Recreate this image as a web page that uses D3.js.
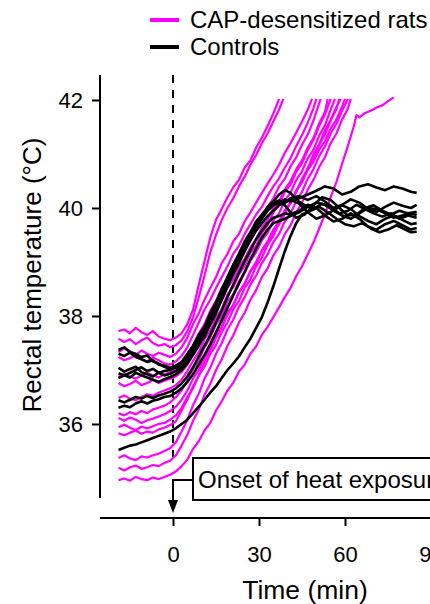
<!DOCTYPE html>
<html>
<head>
<meta charset="utf-8">
<script src="https://cdn.jsdelivr.net/npm/d3@7"></script>
<style>
  html, body { margin: 0; padding: 0; background: #fff; }
  svg { display: block; }
  text { font-family: Arial, "Liberation Sans", sans-serif; fill: #000; }
</style>
</head>
<body>
<div id="chart"></div>
<script>
// CAP-desensitized rats, [time (min), rectal temperature (°C)]
const cap1 = [[-19,37.72],[-17,37.75],[-15,37.68],[-13,37.78],[-11,37.7],[-9,37.65],[-7,37.72],[-5,37.62],[-3,37.58],[-1,37.55],[1,37.6],[3,37.68],[5,37.85],[7,38.12],[9,38.58],[11,39.02],[13,39.45],[15,39.78],[17,39.98],[19,40.2],[21,40.38],[23,40.52],[25,40.75],[27,40.88],[29,41.12],[31,41.3],[33,41.52],[35,41.75],[37,42.02]]
const cap2 = [[-19,37.58],[-17,37.52],[-15,37.57],[-13,37.48],[-11,37.55],[-9,37.6],[-7,37.5],[-5,37.45],[-3,37.48],[-1,37.42],[1,37.46],[3,37.55],[5,37.72],[7,37.98],[9,38.35],[11,38.75],[13,39.18],[15,39.5],[17,39.78],[19,40.0],[21,40.18],[23,40.4],[25,40.58],[27,40.8],[29,40.98],[31,41.2],[33,41.38],[35,41.6],[37,41.82],[38.5,42.02]]
const cap3 = [[-19,37.33],[-17,37.4],[-15,37.35],[-13,37.28],[-11,37.36],[-9,37.3],[-7,37.26],[-5,37.32],[-3,37.28],[-1,37.24],[1,37.3],[3,37.42],[5,37.6],[7,37.85],[9,38.05],[11,38.3],[13,38.52],[15,38.72],[17,38.98],[19,39.15],[21,39.38],[23,39.52],[25,39.75],[27,39.92],[29,40.1],[31,40.28],[33,40.45],[35,40.62],[37,40.8],[39,41.02],[41,41.2],[43,41.4],[45,41.6],[47,41.82],[48.5,42.02]]
const cap4 = [[-19,37.24],[-17,37.18],[-15,37.22],[-13,37.27],[-11,37.2],[-9,37.16],[-7,37.23],[-5,37.18],[-3,37.12],[-1,37.1],[1,37.16],[3,37.26],[5,37.42],[7,37.65],[9,37.88],[11,38.12],[13,38.3],[15,38.52],[17,38.72],[19,38.92],[21,39.15],[23,39.3],[25,39.52],[27,39.7],[29,39.88],[31,40.02],[33,40.22],[35,40.4],[37,40.55],[39,40.75],[41,40.92],[43,41.15],[45,41.35],[47,41.58],[49,41.85],[50,42.02]]
const cap5 = [[-19,36.87],[-17,36.93],[-15,36.88],[-13,36.84],[-11,36.9],[-9,36.95],[-7,36.9],[-5,36.86],[-3,36.92],[-1,36.96],[1,37.0],[3,37.1],[5,37.25],[7,37.45],[9,37.68],[11,37.85],[13,38.1],[15,38.28],[17,38.52],[19,38.66],[21,38.92],[23,39.06],[25,39.32],[27,39.44],[29,39.67],[31,39.84],[33,40.02],[35,40.18],[37,40.4],[39,40.54],[41,40.77],[43,40.94],[45,41.17],[47,41.36],[49,41.62],[51.5,42.02]]
const cap6 = [[-19,36.76],[-17,36.7],[-15,36.74],[-13,36.8],[-11,36.72],[-9,36.76],[-7,36.82],[-5,36.76],[-3,36.8],[-1,36.84],[1,36.88],[3,36.96],[5,37.1],[7,37.3],[9,37.46],[11,37.7],[13,37.88],[15,38.12],[17,38.28],[19,38.52],[21,38.68],[23,38.9],[25,39.06],[27,39.27],[29,39.43],[31,39.64],[33,39.78],[35,40.0],[37,40.13],[39,40.34],[41,40.5],[43,40.72],[45,40.88],[47,41.12],[49,41.3],[51,41.57],[53,41.78],[54,42.02]]
const cap7 = [[-19,36.48],[-17,36.53],[-15,36.47],[-13,36.44],[-11,36.5],[-9,36.55],[-7,36.52],[-5,36.58],[-3,36.62],[-1,36.66],[1,36.72],[3,36.82],[5,36.98],[7,37.17],[9,37.33],[11,37.57],[13,37.73],[15,37.97],[17,38.13],[19,38.4],[21,38.53],[23,38.77],[25,38.93],[27,39.17],[29,39.3],[31,39.54],[33,39.68],[35,39.92],[37,40.06],[39,40.3],[41,40.43],[43,40.67],[45,40.83],[47,41.07],[49,41.26],[51,41.52],[53,41.73],[55,42.02]]
const cap8 = [[-19,36.2],[-17,36.16],[-15,36.22],[-13,36.18],[-11,36.24],[-9,36.2],[-7,36.27],[-5,36.3],[-3,36.34],[-1,36.4],[1,36.5],[3,36.62],[5,36.8],[7,37.02],[9,37.18],[11,37.42],[13,37.6],[15,37.84],[17,38.0],[19,38.27],[21,38.4],[23,38.64],[25,38.8],[27,39.02],[29,39.18],[31,39.4],[33,39.54],[35,39.77],[37,39.9],[39,40.14],[41,40.28],[43,40.52],[45,40.68],[47,40.92],[49,41.08],[51,41.34],[53,41.53],[55,41.82],[56.5,42.02]]
const cap9 = [[-19,36.11],[-17,36.06],[-15,36.12],[-13,36.08],[-11,36.02],[-9,36.07],[-7,36.1],[-5,36.14],[-3,36.18],[-1,36.24],[1,36.32],[3,36.45],[5,36.62],[7,36.84],[9,37.0],[11,37.24],[13,37.4],[15,37.64],[17,37.8],[19,38.07],[21,38.2],[23,38.44],[25,38.6],[27,38.82],[29,38.98],[31,39.2],[33,39.34],[35,39.57],[37,39.7],[39,39.94],[41,40.08],[43,40.32],[45,40.48],[47,40.74],[49,40.9],[51,41.17],[53,41.36],[55,41.62],[57,41.83],[58,42.02]]
const cap10 = [[-19,35.94],[-17,35.99],[-15,35.93],[-13,35.89],[-11,35.95],[-9,35.92],[-7,35.96],[-5,36.0],[-3,36.02],[-1,36.08],[1,36.16],[3,36.3],[5,36.5],[7,36.66],[9,36.9],[11,37.06],[13,37.3],[15,37.46],[17,37.7],[19,37.88],[21,38.12],[23,38.28],[25,38.52],[27,38.68],[29,38.92],[31,39.08],[33,39.32],[35,39.48],[37,39.72],[39,39.88],[41,40.12],[43,40.3],[45,40.54],[47,40.73],[49,41.0],[51,41.18],[53,41.44],[55,41.63],[57,41.87],[58.5,42.02]]
const cap11 = [[-19,35.83],[-17,35.79],[-15,35.84],[-13,35.88],[-11,35.82],[-9,35.86],[-7,35.84],[-5,35.9],[-3,35.93],[-1,35.98],[1,36.05],[3,36.25],[5,36.45],[7,36.7],[9,36.9],[11,37.15],[13,37.35],[15,37.6],[17,37.78],[19,38.02],[21,38.2],[23,38.43],[25,38.6],[27,38.83],[29,39.0],[31,39.22],[33,39.38],[35,39.6],[37,39.75],[39,39.96],[41,40.1],[43,40.32],[45,40.48],[47,40.7],[49,40.86],[51,41.08],[53,41.24],[55,41.47],[57,41.64],[59,41.88],[60,42.02]]
const cap12 = [[-19,35.37],[-17,35.42],[-15,35.36],[-13,35.33],[-11,35.4],[-9,35.38],[-7,35.42],[-5,35.45],[-3,35.5],[-1,35.55],[1,35.66],[3,35.86],[5,36.08],[7,36.35],[9,36.56],[11,36.84],[13,37.04],[15,37.3],[17,37.5],[19,37.75],[21,37.93],[23,38.17],[25,38.35],[27,38.58],[29,38.75],[31,38.98],[33,39.14],[35,39.37],[37,39.52],[39,39.75],[41,39.9],[43,40.13],[45,40.3],[47,40.54],[49,40.72],[51,40.96],[53,41.14],[55,41.38],[57,41.56],[59,41.8],[61,42.02]]
const cap13 = [[-19,35.19],[-17,35.14],[-15,35.2],[-13,35.23],[-11,35.17],[-9,35.2],[-7,35.24],[-5,35.22],[-3,35.28],[-1,35.32],[1,35.42],[3,35.6],[5,35.8],[7,36.06],[9,36.27],[11,36.54],[13,36.74],[15,37.0],[17,37.2],[19,37.45],[21,37.64],[23,37.88],[25,38.06],[27,38.3],[29,38.48],[31,38.72],[33,38.88],[35,39.12],[37,39.28],[39,39.52],[41,39.68],[43,39.92],[45,40.1],[47,40.34],[49,40.52],[51,40.76],[53,40.94],[55,41.2],[57,41.38],[59,41.64],[61,41.84],[62,42.02]]
const cap14 = [[-19,34.96],[-17,34.99],[-15,34.95],[-13,35.02],[-11,34.98],[-9,34.96],[-7,35.01],[-5,34.98],[-3,35.02],[-1,35.06],[1,35.12],[3,35.22],[5,35.34],[7,35.54],[9,35.68],[11,35.88],[13,36.02],[15,36.25],[17,36.42],[19,36.62],[21,36.76],[23,36.97],[25,37.1],[27,37.3],[29,37.44],[31,37.65],[33,37.8],[35,37.98],[37,38.16],[39,38.35],[41,38.52],[43,38.74],[45,38.92],[47,39.14],[49,39.36],[51,39.62],[53,39.88],[55,40.2],[57,40.48],[59,40.82],[61,41.15],[63,41.5],[64,41.72],[65,41.68],[67,41.76],[69,41.8],[71,41.86],[73,41.9],[75,41.98],[77,42.05]]

// Controls
const ctl1 = [[-19,37.37],[-17,37.42],[-15,37.33],[-13,37.3],[-11,37.24],[-9,37.27],[-7,37.16],[-5,37.12],[-3,37.06],[-1,37.02],[1,37.04],[3,37.1],[5,37.2],[7,37.35],[9,37.5],[11,37.62],[13,37.85],[15,38.05],[17,38.32],[19,38.55],[21,38.8],[23,39.0],[25,39.3],[27,39.5],[29,39.72],[31,39.85],[33,40.02],[35,40.12],[37,40.25],[39,40.33],[41,40.28],[43,40.15],[46,40.05],[49,39.98],[52,40.08],[55,40.02],[58,39.9],[61,39.95],[64,40.06],[67,39.98],[70,39.9],[73,39.84],[76,39.9],[79,39.8],[82,39.86],[85,39.82]]
const ctl2 = [[-19,37.3],[-17,37.26],[-15,37.32],[-13,37.24],[-11,37.2],[-9,37.15],[-7,37.18],[-5,37.1],[-3,37.08],[-1,37.04],[1,37.08],[3,37.15],[5,37.3],[7,37.45],[9,37.65],[11,37.8],[13,38.05],[15,38.25],[17,38.5],[19,38.72],[21,38.95],[23,39.15],[25,39.38],[27,39.55],[29,39.75],[31,39.88],[33,40.0],[35,40.1],[37,40.14],[39,40.1],[41,40.18],[44,40.22],[47,40.15],[50,40.22],[53,40.12],[56,40.0],[59,40.06],[62,40.16],[65,40.1],[68,39.98],[71,39.93],[74,40.02],[77,40.1],[80,40.04],[83,40.0],[85,40.06]]
const ctl3 = [[-19,37.04],[-17,36.97],[-15,37.02],[-13,37.06],[-11,36.96],[-9,36.92],[-7,36.88],[-5,36.95],[-3,36.9],[-1,36.93],[1,36.98],[3,37.05],[5,37.18],[7,37.35],[9,37.55],[11,37.75],[13,37.95],[15,38.2],[17,38.42],[19,38.65],[21,38.9],[23,39.1],[25,39.32],[27,39.5],[29,39.68],[31,39.85],[33,39.98],[35,40.08],[37,40.12],[39,40.05],[41,39.92],[43,39.82],[46,39.88],[49,40.05],[52,40.2],[55,40.15],[58,40.0],[61,39.86],[64,39.88],[67,40.0],[70,40.05],[73,39.95],[76,39.88],[79,39.95],[82,39.9],[85,39.93]]
const ctl4 = [[-19,36.94],[-17,36.9],[-15,36.95],[-13,37.0],[-11,37.05],[-9,36.98],[-7,37.02],[-5,36.95],[-3,36.98],[-1,37.0],[1,37.05],[3,37.12],[5,37.25],[7,37.4],[9,37.6],[11,37.78],[13,38.0],[15,38.22],[17,38.45],[19,38.68],[21,38.9],[23,39.1],[25,39.3],[27,39.5],[29,39.65],[31,39.8],[33,39.95],[35,40.05],[37,40.1],[39,40.16],[41,40.12],[44,40.18],[47,40.25],[50,40.32],[53,40.4],[56,40.36],[59,40.25],[62,40.3],[65,40.4],[68,40.44],[71,40.38],[74,40.33],[77,40.4],[80,40.36],[83,40.3],[85,40.28]]
const ctl5 = [[-19,36.85],[-17,36.9],[-15,36.86],[-13,36.95],[-11,36.9],[-9,36.86],[-7,36.82],[-5,36.78],[-3,36.83],[-1,36.87],[1,36.92],[3,37.0],[5,37.12],[7,37.28],[9,37.45],[11,37.65],[13,37.85],[15,38.08],[17,38.3],[19,38.55],[21,38.78],[23,38.98],[25,39.2],[27,39.4],[29,39.58],[31,39.72],[33,39.85],[35,39.95],[37,40.05],[39,40.1],[41,40.15],[44,40.08],[47,39.92],[50,39.8],[53,39.86],[56,39.96],[59,40.05],[62,39.98],[65,39.85],[68,39.76],[71,39.7],[74,39.8],[77,39.86],[80,39.78],[83,39.7],[85,39.72]]
const ctl6 = [[-19,36.44],[-17,36.4],[-15,36.45],[-13,36.5],[-11,36.47],[-9,36.52],[-7,36.48],[-5,36.53],[-3,36.56],[-1,36.6],[1,36.66],[3,36.75],[5,36.88],[7,37.05],[9,37.25],[11,37.45],[13,37.65],[15,37.88],[17,38.1],[19,38.35],[21,38.58],[23,38.8],[25,39.02],[27,39.22],[29,39.42],[31,39.58],[33,39.72],[35,39.82],[37,39.85],[39,39.9],[41,39.88],[44,39.95],[47,40.06],[50,40.0],[53,39.86],[56,39.75],[59,39.8],[62,39.9],[65,39.8],[68,39.66],[71,39.6],[74,39.7],[77,39.76],[80,39.68],[83,39.6],[85,39.63]]
const ctl7 = [[-19,36.3],[-17,36.34],[-15,36.31],[-13,36.38],[-11,36.42],[-9,36.38],[-7,36.43],[-5,36.46],[-3,36.5],[-1,36.52],[1,36.58],[3,36.66],[5,36.78],[7,36.92],[9,37.1],[11,37.28],[13,37.48],[15,37.7],[17,37.92],[19,38.15],[21,38.38],[23,38.6],[25,38.82],[27,39.05],[29,39.25],[31,39.45],[33,39.6],[35,39.72],[37,39.76],[39,39.8],[41,39.85],[44,39.92],[47,40.02],[50,40.1],[53,40.06],[56,39.95],[59,39.86],[62,39.8],[65,39.9],[68,40.0],[71,39.98],[74,39.9],[77,39.82],[80,39.86],[83,39.9],[85,39.87]]
const ctl8 = [[-19,35.52],[-17,35.56],[-15,35.6],[-13,35.62],[-11,35.66],[-9,35.7],[-7,35.74],[-5,35.78],[-3,35.82],[-1,35.86],[1,35.92],[3,36.0],[5,36.08],[7,36.2],[9,36.32],[11,36.45],[13,36.58],[15,36.7],[17,36.85],[19,37.0],[21,37.12],[23,37.25],[25,37.42],[27,37.58],[29,37.78],[31,37.98],[33,38.25],[35,38.55],[37,38.88],[39,39.2],[41,39.48],[43,39.72],[45,39.88],[48,39.95],[51,40.02],[54,39.92],[57,39.8],[60,39.7],[63,39.66],[66,39.72],[69,39.62],[72,39.55],[75,39.6],[78,39.68],[81,39.6],[83,39.55],[85,39.56]]

const capTraces = [cap1, cap2, cap3, cap4, cap5, cap6, cap7, cap8, cap9, cap10, cap11, cap12, cap13, cap14]
const ctlTraces = [ctl1, ctl2, ctl3, ctl4, ctl5, ctl6, ctl7, ctl8]

const xTicks = [0, 30, 60, 90]
const yTicks = [36, 38, 40, 42]
const legendLabels = ['CAP-desensitized rats', 'Controls']
const annotationText = 'Onset of heat exposure'

const W = 430, H = 604
const magenta = '#ff00ff'

const svg = d3.select('#chart').append('svg')
    .attr('width', W)
    .attr('height', H)

const x = d3.scaleLinear().domain([0, 90]).range([173, 431])
const y = d3.scaleLinear().domain([36, 42]).range([424, 100])

const line = d3.line()
    .x(function (d) { return x(d[0]) })
    .y(function (d) { return y(d[1]) })

// dashed onset line
svg.append('line')
    .attr('x1', x(0)).attr('x2', x(0))
    .attr('y1', 75).attr('y2', 458)
    .attr('stroke', '#000')
    .attr('stroke-width', 2)
    .attr('stroke-dasharray', '8,7')

svg.append('g').selectAll('path')
    .data(capTraces)
    .enter().append('path')
    .attr('d', line)
    .attr('fill', 'none')
    .attr('stroke', magenta)
    .attr('stroke-width', 2.2)
    .attr('stroke-linejoin', 'round')

svg.append('g').selectAll('path')
    .data(ctlTraces)
    .enter().append('path')
    .attr('d', line)
    .attr('fill', 'none')
    .attr('stroke', '#000')
    .attr('stroke-width', 2.6)
    .attr('stroke-linejoin', 'round')

// y axis
const yAxis = svg.append('g')
    .attr('transform', 'translate(100,0)')
    .call(d3.axisLeft(y).tickValues(yTicks).tickSize(8).tickPadding(9).tickFormat(d3.format('d')))
yAxis.select('.domain').remove()
yAxis.append('line')
    .attr('x1', 0).attr('x2', 0)
    .attr('y1', 75).attr('y2', 498)
    .attr('stroke', '#000').attr('stroke-width', 2)
yAxis.selectAll('.tick line').attr('stroke-width', 2)
yAxis.selectAll('.tick text')
    .style('font-size', '22px')
    .style('font-family', 'Arial, "Liberation Sans", sans-serif')
    .attr('fill', '#000')

// x axis
const xAxis = svg.append('g')
    .attr('transform', 'translate(0,518)')
    .call(d3.axisBottom(x).tickValues(xTicks).tickSize(8).tickPadding(20))
xAxis.select('.domain').remove()
xAxis.append('line')
    .attr('x1', 100).attr('x2', W)
    .attr('y1', 0).attr('y2', 0)
    .attr('stroke', '#000').attr('stroke-width', 2)
xAxis.selectAll('.tick line').attr('stroke-width', 2)
xAxis.selectAll('.tick text')
    .style('font-size', '22px')
    .style('font-family', 'Arial, "Liberation Sans", sans-serif')
    .attr('fill', '#000')

svg.append('text')
    .attr('x', 305).attr('y', 599)
    .attr('text-anchor', 'middle')
    .style('font-size', '26.5px')
    .text('Time (min)')

svg.append('text')
    .attr('transform', 'translate(41,275) rotate(-90)')
    .attr('text-anchor', 'middle')
    .style('font-size', '26px')
    .text('Rectal temperature (°C)')

// legend
const legend = svg.append('g')
legend.selectAll('line')
    .data(legendLabels)
    .enter().append('line')
    .attr('x1', 150).attr('x2', 179)
    .attr('y1', function (d, i) { return 20 + i * 27 })
    .attr('y2', function (d, i) { return 20 + i * 27 })
    .attr('stroke', function (d, i) { return i === 0 ? magenta : '#000' })
    .attr('stroke-width', 4)
legend.selectAll('text')
    .data(legendLabels)
    .enter().append('text')
    .attr('x', 190)
    .attr('y', function (d, i) { return 28 + i * 27 })
    .style('font-size', '24px')
    .text(function (d) { return d })

// annotation box + arrow (the box runs past the right edge, as in the original)
svg.append('rect')
    .attr('x', 193).attr('y', 458)
    .attr('width', 300).attr('height', 42)
    .attr('fill', '#fff')
    .attr('stroke', '#000')
    .attr('stroke-width', 2)
svg.append('text')
    .attr('x', 198).attr('y', 488)
    .style('font-size', '24px')
    .text(annotationText)
svg.append('path')
    .attr('d', 'M193,480H' + x(0) + 'V502')
    .attr('fill', 'none')
    .attr('stroke', '#000')
    .attr('stroke-width', 2)
svg.append('path')
    .attr('d', 'M' + (x(0) - 5) + ',500L' + (x(0) + 5) + ',500L' + x(0) + ',513Z')
    .attr('fill', '#000')
</script>
</body>
</html>
